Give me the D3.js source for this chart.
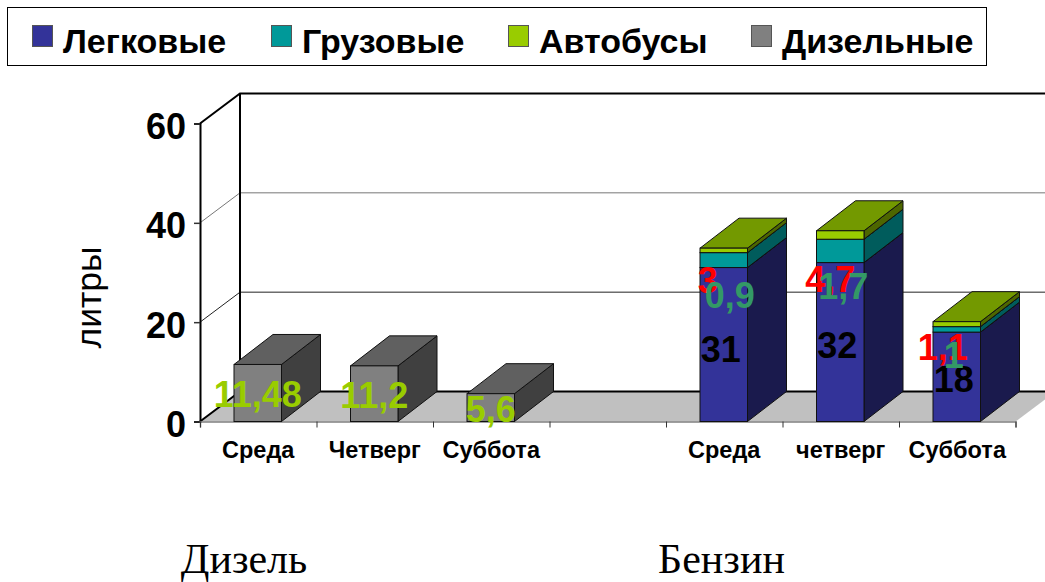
<!DOCTYPE html>
<html>
<head>
<meta charset="utf-8">
<script src="https://cdn.jsdelivr.net/npm/d3@7"></script>
<style>
  html, body { margin: 0; padding: 0; background: #fff; overflow: hidden; }
  text { font-family: "Liberation Sans", Arial, sans-serif; }
</style>
</head>
<body>
<div id="chart"></div>
<script>
// Data
const categories = ['Среда', 'Четверг', 'Суббота', '', 'Среда', 'четверг', 'Суббота'];
const legkovye = [0, 0, 0, 0, 31, 32, 18];
const gruzovye = [0, 0, 0, 0, 3, 4.7, 1.1];
const avtobusy = [0, 0, 0, 0, 0.9, 1.7, 1];
const dizelnye = [11.48, 11.2, 5.6, 0, 0, 0, 0];
const seriesNames = ['Легковые', 'Грузовые', 'Автобусы', 'Дизельные'];
const yTicks = [0, 20, 40, 60];
const groupNames = ['Дизель', 'Бензин'];

const width = 1045;
const height = 582;

// 3D look: every bar and the floor are shifted by this to get the back plane
const depthX = 39;
const depthY = -30;

const colors = {
  'Легковые': { front: '#333399', side: '#1a1a4d', top: '#262673' },
  'Грузовые': { front: '#009999', side: '#005c5c', top: '#007373' },
  'Автобусы': { front: '#99cc00', side: '#4d6600', top: '#739900' },
  'Дизельные': { front: '#808080', side: '#404040', top: '#606060' }
};
const labelColors = { 'Легковые': '#000000', 'Грузовые': '#ff0000', 'Автобусы': '#339966', 'Дизельные': '#99cc00' };
const gridColors = { 0: '#000', 20: '#222', 40: '#777', 60: '#000' };

// Labels were dragged by hand in the original, so they need their own shifts
const labelShift = {
  'Легковые': [[0, 0], [0, 0], [0, 0], [0, 0], [-3, 3], [-3, 2], [-3, 1]],
  'Грузовые': [[0, 0], [0, 0], [0, 0], [0, 0], [-16, 19], [-10, 27], [-14, 17]],
  'Автобусы': [[0, 0], [0, 0], [0, 0], [0, 0], [6, 44], [3, 50], [-3, 30]],
  'Дизельные': [[0, 0], [0, 0], [0, 0], [0, 0], [0, 0], [0, 0], [0, 0]]
};

const svg = d3.select('#chart').append('svg')
  .attr('width', width)
  .attr('height', height)
  .style('display', 'block');

const x = d3.scaleBand()
  .domain(d3.range(categories.length))
  .range([200, 1015.5])
  .paddingInner(0)
  .paddingOuter(0);
const tickScale = d3.scaleLinear().domain([0, categories.length]).range([200, 1015.5]);
const y = d3.scaleLinear().domain([0, 60]).range([421.5, 123.5]);

const barWidth = 47.5;
const barLeft = i => x(i) + 34;

// Floor
const floorY = y(0);
svg.append('polygon')
  .attr('points', [
    [x.range()[0], floorY],
    [x.range()[0] + depthX + 1, floorY + depthY],
    [x.range()[1] + depthX + 1, floorY + depthY],
    [x.range()[1], floorY]
  ].join(' '))
  .attr('fill', '#c0c0c0');

// Back wall grid
yTicks.forEach(t => {
  svg.append('path')
    .attr('d', `M200,${y(t)} L${200 + depthX + 1},${y(t) + depthY} L${width},${y(t) + depthY}`)
    .attr('fill', 'none')
    .attr('stroke', gridColors[t])
    .attr('stroke-width', t === 0 || t === 60 ? 2 : 1);
});
svg.append('line')
  .attr('x1', 240).attr('x2', 240)
  .attr('y1', y(60) + depthY).attr('y2', floorY + depthY)
  .attr('stroke', '#000').attr('stroke-width', 2);

// Y axis
const yAxis = d3.axisLeft(y).tickValues(yTicks).tickSize(6).tickPadding(8);
const yG = svg.append('g').attr('transform', 'translate(200,0)').call(yAxis);
yG.select('.domain').attr('stroke', '#000').attr('stroke-width', 2);
yG.selectAll('.tick line').attr('stroke', '#333').attr('stroke-width', 1.5);
yG.selectAll('.tick text')
  .style('font-family', '"Liberation Sans", Arial, sans-serif')
  .style('font-size', '36px')
  .style('font-weight', 'bold')
  .attr('dy', '0.42em')
  .attr('fill', '#000');

// X axis, ticks sit on the band edges
const xAxis = d3.axisBottom(tickScale).ticks(categories.length).tickSize(6).tickFormat('');
const xG = svg.append('g').attr('transform', `translate(0,${floorY})`).call(xAxis);
xG.select('.domain').attr('stroke', '#808080').attr('stroke-width', 1.5);
xG.selectAll('.tick line').attr('stroke', '#333');

svg.append('g').selectAll('text')
  .data(categories)
  .join('text')
  .attr('x', (d, i) => x(i) + x.bandwidth() / 2)
  .attr('y', 458)
  .attr('text-anchor', 'middle')
  .attr('font-size', 23.5)
  .attr('font-weight', 'bold')
  .attr('fill', '#000')
  .text(d => d);

// Stacked bars
const rows = categories.map((c, i) => ({
  index: i,
  'Легковые': legkovye[i],
  'Грузовые': gruzovye[i],
  'Автобусы': avtobusy[i],
  'Дизельные': dizelnye[i]
}));
const stacked = d3.stack().keys(seriesNames)(rows);

const barsG = svg.append('g');
rows.forEach((row, i) => {
  const left = barLeft(i);
  const right = left + barWidth;
  stacked.forEach(layer => {
    const key = layer.key;
    const [y0, y1] = layer[i];
    if (y1 - y0 <= 0) return;
    const yb = y(y0);
    const yt = y(y1);
    const c = colors[key];
    barsG.append('polygon')
      .attr('points', [[right, yb], [right + depthX, yb + depthY], [right + depthX, yt + depthY], [right, yt]].join(' '))
      .attr('fill', c.side).attr('stroke', '#111').attr('stroke-width', 1);
    barsG.append('polygon')
      .attr('points', [[left, yt], [left + depthX, yt + depthY], [right + depthX, yt + depthY], [right, yt]].join(' '))
      .attr('fill', c.top).attr('stroke', '#111').attr('stroke-width', 1);
    barsG.append('rect')
      .attr('x', left).attr('y', yt)
      .attr('width', barWidth).attr('height', yb - yt)
      .attr('fill', c.front).attr('stroke', '#111').attr('stroke-width', 1);
  });
});

// Value labels
const labelsG = svg.append('g');
stacked.forEach(layer => {
  layer.forEach((d, i) => {
    const value = d[1] - d[0];
    if (value <= 0) return;
    const raw = d.data[layer.key];
    const [sx, sy] = labelShift[layer.key][i];
    labelsG.append('text')
      .attr('x', barLeft(i) + barWidth / 2 + sx)
      .attr('y', y((d[0] + d[1]) / 2) + sy + 14)
      .attr('text-anchor', 'middle')
      .attr('font-size', 36)
      .attr('font-weight', 'bold')
      .attr('fill', labelColors[layer.key])
      .text(String(raw).replace('.', ','));
  });
});

// Axis title
svg.append('text')
  .attr('transform', 'translate(101,297.5) rotate(-90)')
  .attr('text-anchor', 'middle')
  .attr('font-size', 35.5)
  .attr('fill', '#000')
  .text('литры');

// Legend
svg.append('rect')
  .attr('x', 7.5).attr('y', 7.5)
  .attr('width', 979).attr('height', 58)
  .attr('fill', '#fff').attr('stroke', '#000').attr('stroke-width', 1);
const legendX = [32, 271, 508, 751];
const legend = svg.append('g').selectAll('g')
  .data(seriesNames)
  .join('g')
  .attr('transform', (d, i) => `translate(${legendX[i]},0)`);
legend.append('rect')
  .attr('x', 0.5).attr('y', 25.5)
  .attr('width', 20).attr('height', 21)
  .attr('fill', d => colors[d].front)
  .attr('stroke', '#555').attr('stroke-width', 1);
legend.append('text')
  .attr('x', 31).attr('y', 52.5)
  .attr('font-size', 34)
  .attr('font-weight', 'bold')
  .attr('fill', '#000')
  .text(d => d);

// Group captions under the two halves
svg.append('g').selectAll('text')
  .data(groupNames)
  .join('text')
  .attr('x', (d, i) => [244, 721.5][i])
  .attr('y', 572.5)
  .attr('text-anchor', 'middle')
  .style('font-family', '"Liberation Serif", "Times New Roman", serif')
  .attr('font-size', 42)
  .attr('fill', '#000')
  .text(d => d);
</script>
</body>
</html>
